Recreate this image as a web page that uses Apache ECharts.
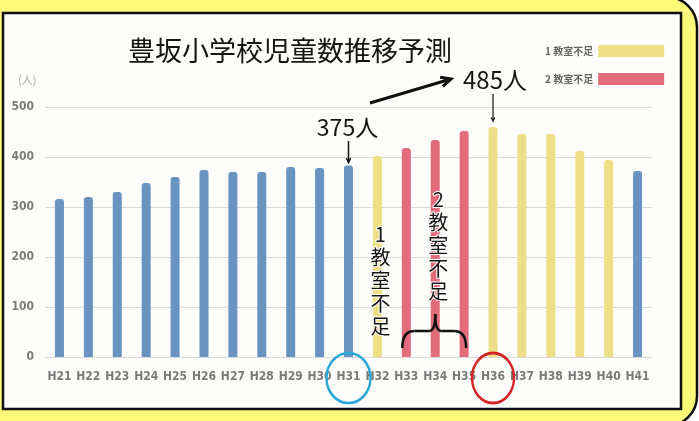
<!DOCTYPE html>
<html lang="ja">
<head>
<meta charset="UTF-8">
<title>豊坂小学校児童数推移予測</title>
<script src="https://cdn.jsdelivr.net/npm/echarts@6/dist/echarts.min.js"></script>
<style>
    body { margin: 0; }
    #chart { width: 699px; height: 421px; }
</style>
</head>
<body>
<div id="chart"></div>
<script>
// 年度ラベル
const years = ['H21','H22','H23','H24','H25','H26','H27','H28','H29','H30',
               'H31','H32','H33','H34','H35','H36','H37','H38','H39','H40','H41'];
// 児童数
const students = [316,320,330,348,360,374,370,370,380,378,
                  383,402,418,434,452,460,446,446,412,394,372];
// 0: 通常, 1: 1教室不足, 2: 2教室不足
const shortage = [0,0,0,0,0,0,0,0,0,0,0,1,2,2,2,1,1,1,1,1,0];
const yTicks = [0,100,200,300,400,500];

const colors = ['#6993c1', '#eedf86', '#e36c7b'];
const legendNames = ['1 教室不足', '2 教室不足'];
const tickFont = "'DejaVu Sans Condensed', 'Liberation Sans', sans-serif";

let chart = echarts.init(document.getElementById('chart'));

let option = {
    backgroundColor: '#ffffff',
    animation: false,
    title: {
        text: '豊坂小学校児童数推移予測',
        left: 123,
        top: 32,
        textStyle: {
            fontFamily: 'Noto Sans CJK JP',
            fontSize: 27,
            fontWeight: 'normal',
            color: '#151515'
        }
    },
    legend: {
        data: legendNames,
        orient: 'vertical',
        left: 540,
        top: 40,
        align: 'right',
        icon: 'rect',
        itemWidth: 66,
        itemHeight: 12,
        itemGap: 16,
        textStyle: { fontSize: 10, color: '#666', fontWeight: 'bold', fontFamily: 'Noto Sans CJK JP' }
    },
    grid: { left: 45, right: 47, top: 107, bottom: 64 },
    xAxis: {
        type: 'category',
        data: years,
        axisLine: { show: false },
        axisTick: { show: false },
        axisLabel: {
            interval: 0,
            margin: 14,
            fontFamily: tickFont,
            fontWeight: 'bold',
            fontSize: 12,
            color: '#7a7a7a'
        }
    },
    yAxis: {
        type: 'value',
        min: yTicks[0],
        max: yTicks[yTicks.length - 1],
        interval: 100,
        axisLabel: {
            margin: 11,
            fontFamily: tickFont,
            fontWeight: 'bold',
            fontSize: 12,
            color: '#7a7a7a'
        },
        splitLine: { lineStyle: { color: '#dadada', width: 1 } }
    },
    series: [
        {
            name: '児童数',
            type: 'bar',
            barWidth: 9,
            data: students.map(function (v, i) {
                return { value: v, itemStyle: { color: colors[shortage[i]] } };
            }),
            itemStyle: { borderRadius: [3, 3, 0, 0] }
        },
        // 凡例用
        { name: legendNames[0], type: 'line', data: [], itemStyle: { color: colors[1] } },
        { name: legendNames[1], type: 'line', data: [], itemStyle: { color: colors[2] } }
    ]
};
chart.setOption(option);

// 注記（矢印・文字・丸）
function px(i, v) {
    return chart.convertToPixel({ gridIndex: 0 }, [i, v]);
}
function arrow(x1, y1, x2, y2, head, w) {
    let a = Math.atan2(y2 - y1, x2 - x1);
    let h1 = [x2 - head * Math.cos(a - 0.45), y2 - head * Math.sin(a - 0.45)];
    let h2 = [x2 - head * Math.cos(a + 0.45), y2 - head * Math.sin(a + 0.45)];
    return {
        type: 'group', z: 100,
        children: [
            { type: 'line', shape: { x1: x1, y1: y1, x2: x2, y2: y2 }, style: { stroke: '#111', lineWidth: w } },
            { type: 'polyline', shape: { points: [h1, [x2, y2], h2] }, style: { stroke: '#111', lineWidth: w, fill: null } }
        ]
    };
}
function curve(x1, y1, cx, cy, x2, y2) {
    return { type: 'bezierCurve', z: 100,
             shape: { x1: x1, y1: y1, cpx1: cx, cpy1: cy, x2: x2, y2: y2 },
             style: { stroke: '#111', lineWidth: 2.5, fill: null } };
}
function seg(x1, y1, x2, y2) {
    return { type: 'line', z: 100, shape: { x1: x1, y1: y1, x2: x2, y2: y2 },
             style: { stroke: '#111', lineWidth: 2.5 } };
}
function ring(cx, cy, rx, ry, color) {
    return { type: 'circle', z: 100, x: cx, y: cy, scaleY: ry / rx,
             shape: { cx: 0, cy: 0, r: rx },
             style: { stroke: color, lineWidth: 2.4, fill: null } };
}

let i31 = years.indexOf('H31');
let i36 = years.indexOf('H36');
let p31 = px(i31, 0);
let p36 = px(i36, 0);
let p32 = px(years.indexOf('H32'), 0);
let p33 = px(years.indexOf('H33'), 0);
let p34 = px(years.indexOf('H34'), 0);
let p35 = px(years.indexOf('H35'), 0);
let top31 = px(i31, students[i31]);
let top36 = px(i36, students[i36]);

let annoText = { fontFamily: 'Noto Sans CJK JP', fill: '#151515' };
let bx1 = p33[0] - 4, bx2 = p35[0] + 2, bm = p34[0], by = 348, bh = 331;

chart.setOption({
    graphic: [
        // 黄色の外枠
        { type: 'rect', z: -20, silent: true,
          shape: { x: -30, y: -3, width: 727, height: 429, r: 30 },
          style: { fill: '#fff97a', stroke: '#111', lineWidth: 2.5 } },
        // 白いパネル
        { type: 'rect', z: -19, silent: true,
          shape: { x: 3, y: 13, width: 678, height: 396 },
          style: { fill: '#fdfdfc', stroke: '#111', lineWidth: 2.5 } },
        // 単位
        { type: 'text', x: 18, y: 74, z: 10,
          style: { text: '(人)', fontSize: 11, fontFamily: 'Noto Sans CJK JP', fill: '#aaa' } },
        // 375人
        { type: 'text', x: top31[0] - 1, y: 127, z: 100,
          style: Object.assign({ text: '375人', fontSize: 23, align: 'center', verticalAlign: 'middle' }, annoText) },
        arrow(top31[0], 141, top31[0], top31[1] - 3, 5, 1.5),
        arrow(370, 103, 451, 79, 11, 3),
        // 485人
        { type: 'text', x: 495, y: 80, z: 100,
          style: Object.assign({ text: '485人', fontSize: 24, align: 'center', verticalAlign: 'middle' }, annoText) },
        arrow(top36[0], 94, top36[0], top36[1] - 6, 4, 1.2),
        // 縦書き注記
        { type: 'text', x: p32[0] + 3, y: 223, z: 100,
          style: Object.assign({ text: '1\n教\n室\n不\n足', fontSize: 20, lineHeight: 23, align: 'center',
                                 stroke: '#fff', lineWidth: 2 }, annoText) },
        { type: 'text', x: bm + 3, y: 188, z: 100,
          style: Object.assign({ text: '2\n教\n室\n不\n足', fontSize: 20, lineHeight: 23, align: 'center',
                                 stroke: '#fff', lineWidth: 2 }, annoText) },
        // 中括弧
        curve(bx1, by, bx1, bh, bx1 + 12, bh),
        seg(bx1 + 12, bh, bm - 6, bh),
        curve(bm - 6, bh, bm, bh, bm, 314),
        curve(bm, 314, bm, bh, bm + 6, bh),
        seg(bm + 6, bh, bx2 - 12, bh),
        curve(bx2 - 12, bh, bx2, bh, bx2, by),
        // 丸
        ring(p31[0], p31[1] + 21, 22, 25, '#2aa7d8'),
        ring(p36[0], p36[1] + 21, 21, 25, '#d42424')
    ]
});
</script>
</body>
</html>
